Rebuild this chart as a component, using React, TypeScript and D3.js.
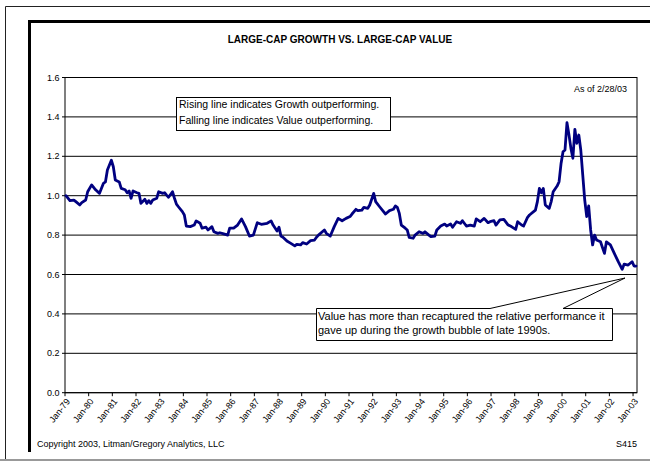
import React from "react";
import * as d3 from "d3";

// Monthly ratio of large-cap growth to large-cap value (Jan-79 = 1.0)
const readings: [string, number][] = [
  ["1979-01", 1.0], ["1979-03", 0.975], ["1979-05", 0.978], ["1979-06", 0.97],
  ["1979-08", 0.953], ["1979-09", 0.965], ["1979-11", 0.978], ["1979-12", 1.02],
  ["1980-02", 1.055], ["1980-04", 1.03], ["1980-06", 1.012], ["1980-08", 1.063],
  ["1980-09", 1.07], ["1980-10", 1.13], ["1980-12", 1.18], ["1981-01", 1.147],
  ["1981-02", 1.08], ["1981-04", 1.07], ["1981-05", 1.037], ["1981-07", 1.03],
  ["1981-08", 1.015], ["1981-09", 1.024], ["1981-10", 0.987], ["1981-11", 1.024],
  ["1982-01", 1.015], ["1982-02", 1.012], ["1982-03", 0.961], ["1982-05", 0.982],
  ["1982-06", 0.961], ["1982-07", 0.975], ["1982-08", 0.961], ["1982-09", 0.978],
  ["1982-11", 0.987], ["1982-12", 1.02], ["1983-02", 1.012], ["1983-03", 1.015],
  ["1983-04", 1.003], ["1983-05", 0.992], ["1983-07", 1.02], ["1983-08", 0.987],
  ["1983-09", 0.957], ["1983-10", 0.944], ["1983-12", 0.919], ["1984-01", 0.902],
  ["1984-02", 0.846], ["1984-04", 0.843], ["1984-06", 0.851], ["1984-07", 0.872],
  ["1984-09", 0.86], ["1984-10", 0.835], ["1984-12", 0.84], ["1985-01", 0.826],
  ["1985-03", 0.843], ["1985-04", 0.817], ["1985-06", 0.809], ["1985-07", 0.812],
  ["1985-09", 0.806], ["1985-11", 0.8], ["1985-12", 0.835], ["1986-02", 0.835],
  ["1986-04", 0.851], ["1986-06", 0.882], ["1986-08", 0.843], ["1986-10", 0.795],
  ["1986-12", 0.8], ["1987-02", 0.863], ["1987-04", 0.855], ["1987-07", 0.86],
  ["1987-09", 0.872], ["1987-10", 0.851], ["1987-12", 0.821], ["1988-01", 0.84],
  ["1988-02", 0.795], ["1988-03", 0.789], ["1988-05", 0.77], ["1988-07", 0.758],
  ["1988-09", 0.745], ["1988-10", 0.753], ["1988-12", 0.75], ["1989-01", 0.762],
  ["1989-03", 0.755], ["1989-05", 0.772], ["1989-07", 0.775], ["1989-08", 0.789],
  ["1989-09", 0.8], ["1989-12", 0.826], ["1990-01", 0.809], ["1990-03", 0.795],
  ["1990-05", 0.843], ["1990-07", 0.885], ["1990-09", 0.873], ["1990-11", 0.885],
  ["1991-01", 0.894], ["1991-02", 0.907], ["1991-04", 0.931], ["1991-05", 0.924],
  ["1991-07", 0.927], ["1991-08", 0.941], ["1991-10", 0.936], ["1991-11", 0.953],
  ["1992-01", 1.012], ["1992-02", 0.97], ["1992-04", 0.944], ["1992-06", 0.919],
  ["1992-07", 0.907], ["1992-09", 0.924], ["1992-11", 0.931], ["1992-12", 0.948],
  ["1993-01", 0.941], ["1993-02", 0.91], ["1993-03", 0.851], ["1993-05", 0.835],
  ["1993-06", 0.826], ["1993-07", 0.789], ["1993-09", 0.784], ["1993-10", 0.8],
  ["1993-12", 0.817], ["1994-02", 0.809], ["1994-03", 0.817], ["1994-05", 0.8],
  ["1994-06", 0.792], ["1994-08", 0.795], ["1994-09", 0.826], ["1994-11", 0.846],
  ["1995-01", 0.856], ["1995-02", 0.846], ["1995-04", 0.856], ["1995-05", 0.84],
  ["1995-07", 0.868], ["1995-09", 0.86], ["1995-10", 0.873], ["1995-12", 0.846],
  ["1996-02", 0.851], ["1996-04", 0.846], ["1996-05", 0.882], ["1996-07", 0.868],
  ["1996-09", 0.885], ["1996-11", 0.863], ["1996-12", 0.868], ["1997-02", 0.873],
  ["1997-03", 0.851], ["1997-05", 0.877], ["1997-07", 0.88], ["1997-09", 0.853],
  ["1997-11", 0.842], ["1998-01", 0.829], ["1998-02", 0.868], ["1998-04", 0.851],
  ["1998-05", 0.846], ["1998-07", 0.89], ["1998-08", 0.902], ["1998-11", 0.927],
  ["1998-12", 0.97], ["1999-01", 1.037], ["1999-02", 1.015], ["1999-03", 1.037],
  ["1999-04", 0.953], ["1999-06", 0.936], ["1999-07", 0.97], ["1999-08", 1.02],
  ["1999-10", 1.049], ["1999-11", 1.071], ["1999-12", 1.164], ["2000-01", 1.223],
  ["2000-02", 1.232], ["2000-03", 1.371], ["2000-04", 1.31], ["2000-05", 1.24],
  ["2000-06", 1.19], ["2000-07", 1.337], ["2000-08", 1.266], ["2000-09", 1.308],
  ["2000-10", 1.232], ["2000-11", 1.105], ["2000-12", 0.978], ["2001-01", 0.894],
  ["2001-02", 0.948], ["2001-03", 0.826], ["2001-04", 0.75], ["2001-05", 0.8],
  ["2001-06", 0.775], ["2001-08", 0.766], ["2001-10", 0.707], ["2001-11", 0.766],
  ["2002-01", 0.75], ["2002-03", 0.707], ["2002-05", 0.665], ["2002-07", 0.626],
  ["2002-08", 0.653], ["2002-10", 0.648], ["2002-12", 0.665], ["2003-01", 0.643],
  ["2003-02", 0.643],
];

const firstYear = 1979;
const monthCount = 290; // Jan-79 .. Feb-03

const xTickLabels = [
  "Jan-79", "Jan-80", "Jan-81", "Jan-82", "Jan-83", "Jan-84", "Jan-85",
  "Jan-86", "Jan-87", "Jan-88", "Jan-89", "Jan-90", "Jan-91", "Jan-92",
  "Jan-93", "Jan-94", "Jan-95", "Jan-96", "Jan-97", "Jan-98", "Jan-99",
  "Jan-00", "Jan-01", "Jan-02", "Jan-03",
];

const yTicks = [0, 0.2, 0.4, 0.6, 0.8, 1.0, 1.2, 1.4, 1.6];

const title = "LARGE-CAP GROWTH VS. LARGE-CAP VALUE";
const asOfNote = "As of 2/28/03";
const legendNote = [
  "Rising line indicates Growth outperforming.",
  "Falling line indicates Value outperforming.",
];
const calloutNote = [
  "Value has more than recaptured the relative performance it",
  "gave up during the growth bubble of late 1990s.",
];
const copyright = "Copyright 2003, Litman/Gregory Analytics, LLC";
const slideId = "S415";

const FONT = "'Liberation Sans', Arial, Helvetica, sans-serif";

const monthIndex = (s: string) => {
  const [yy, mm] = s.split("-").map(Number);
  return (yy - firstYear) * 12 + (mm - 1);
};

export default function App() {
  const W = 650;
  const H = 462;
  const plot = { left: 65, right: 637, top: 77.5, bottom: 392.7 };

  // category axis: one slot per month, ticks between slots
  const x = d3
    .scaleLinear()
    .domain([-0.5, monthCount - 0.5])
    .range([plot.left, plot.right]);
  const y = d3.scaleLinear().domain([0, 1.6]).range([plot.bottom, plot.top]);

  const line = d3
    .line<[string, number]>()
    .x((d) => x(monthIndex(d[0])))
    .y((d) => y(d[1]));

  const fmt = d3.format(".1f");

  // callout anchored on the latest reading
  const last = readings[readings.length - 1];
  const tipX = x(monthIndex(last[0])) - 11;
  const tipY = y(last[1]) + 12;
  const box = { x: 316, y: 308, w: 296, h: 32 };
  const wedgeL = 490;
  const wedgeR = 563;

  return (
    <div style={{ position: "absolute", left: 0, top: 0 }}>
      <svg width={W} height={H} style={{ display: "block", background: "#fff" }}>
        {/* slide frame */}
        <path d="M5.5,460 V6.5 H650" fill="none" stroke="#222" strokeWidth={1} />
        <path d="M29.5,452 V21.5 H650" fill="none" stroke="#000" strokeWidth={3} />
        <line x1={0} x2={W} y1={460} y2={460} stroke="#999" strokeWidth={2} />

        <text
          x={340}
          y={42.5}
          textAnchor="middle"
          fontFamily={FONT}
          fontWeight="bold"
          fontSize={10}
        >
          {title}
        </text>

        {/* gridlines */}
        {yTicks.map((v) => (
          <line
            key={`g${v}`}
            x1={plot.left}
            x2={plot.right}
            y1={y(v)}
            y2={y(v)}
            stroke="#000"
            strokeWidth={1}
          />
        ))}
        <rect
          x={plot.left}
          y={plot.top}
          width={plot.right - plot.left}
          height={plot.bottom - plot.top}
          fill="none"
          stroke="#000"
          strokeWidth={1}
        />

        {/* y axis */}
        {yTicks.map((v) => (
          <g key={`y${v}`}>
            <line x1={plot.left - 3} x2={plot.left} y1={y(v)} y2={y(v)} stroke="#000" />
            <text
              x={plot.left - 5.5}
              y={y(v)}
              dy="0.35em"
              textAnchor="end"
              fontFamily={FONT}
              fontSize={9}
            >
              {fmt(v)}
            </text>
          </g>
        ))}

        {/* x axis */}
        {xTickLabels.map((lab, i) => {
          const tx = x(i * 12 - 0.5);
          return (
            <g key={lab}>
              <line x1={tx} x2={tx} y1={plot.bottom} y2={plot.bottom + 3.5} stroke="#000" />
              <text
                transform={`translate(${tx + 3},${plot.bottom + 7}) rotate(-52)`}
                textAnchor="end"
                dy="0.35em"
                fontFamily={FONT}
                fontSize={9}
              >
                {lab}
              </text>
            </g>
          );
        })}

        {/* series */}
        <path
          d={line(readings) ?? ""}
          fill="none"
          stroke="#000080"
          strokeWidth={2.8}
          strokeLinejoin="round"
          strokeLinecap="round"
        />

        {/* notes */}
        <text x={627} y={91.5} textAnchor="end" fontFamily={FONT} fontSize={9}>
          {asOfNote}
        </text>

        <rect x={176.5} y={97.5} width={214} height={33} fill="#fff" stroke="#000" />
        {legendNote.map((t, i) => (
          <text key={t} x={179} y={108 + i * 15.5} fontFamily={FONT} fontSize={10.5}>
            {t}
          </text>
        ))}

        <path
          d={`M${box.x + 0.5},${box.y + 0.5} H${wedgeL} L${tipX},${tipY} L${wedgeR},${
            box.y + 0.5
          } H${box.x + box.w + 0.5} V${box.y + box.h + 0.5} H${box.x + 0.5} Z`}
          fill="#fff"
          stroke="#000"
          strokeWidth={1}
        />
        {calloutNote.map((t, i) => (
          <text key={t} x={318} y={319.5 + i * 14} fontFamily={FONT} fontSize={11}>
            {t}
          </text>
        ))}

        <text x={37} y={446.5} fontFamily={FONT} fontSize={9}>
          {copyright}
        </text>
        <text x={637} y={447} textAnchor="end" fontFamily={FONT} fontSize={9}>
          {slideId}
        </text>
      </svg>
    </div>
  );
}
